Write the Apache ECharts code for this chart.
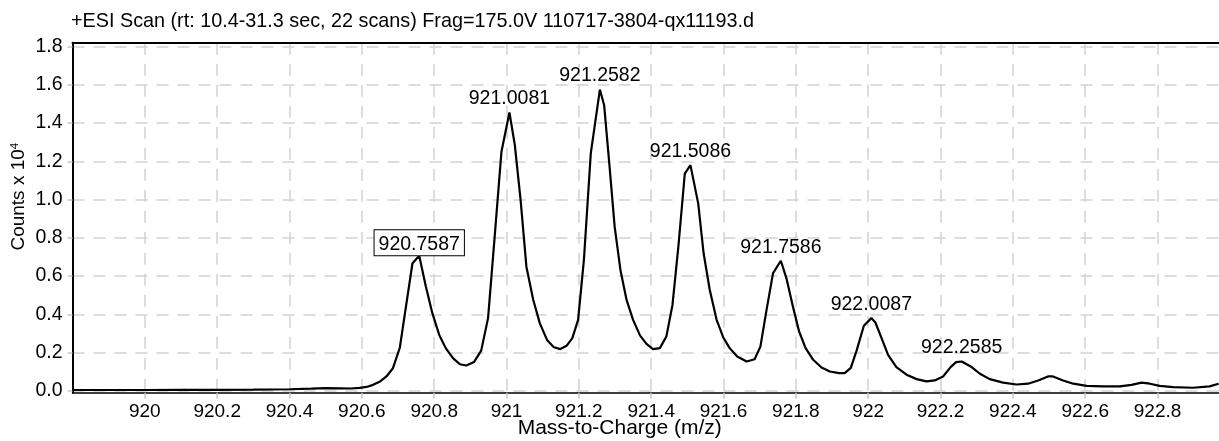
<!DOCTYPE html>
<html>
<head>
<meta charset="utf-8">
<script src="https://cdn.jsdelivr.net/npm/echarts@6/dist/echarts.min.js"></script>
<style>
  html, body { margin: 0; padding: 0; background: #ffffff; }
  #chart { width: 1219px; height: 441px; }
</style>
</head>
<body>
<div id="chart"></div>
<script>
// Profile spectrum: m/z and intensity (counts x 10^4)
const mz = [
  919.80, 919.90, 920.00, 920.10, 920.20, 920.30, 920.40, 920.46, 920.50, 920.54,
  920.57, 920.594, 920.613, 920.631, 920.649, 920.668, 920.686, 920.705, 920.722, 920.740,
  920.7587, 920.777, 920.795, 920.814, 920.832, 920.852, 920.871, 920.889, 920.910, 920.930,
  920.949, 920.968, 920.986, 921.0081, 921.023, 921.039, 921.055, 921.074, 921.092, 921.112,
  921.131, 921.149, 921.166, 921.182, 921.198, 921.214, 921.233, 921.2582, 921.270, 921.285,
  921.299, 921.315, 921.332, 921.350, 921.369, 921.387, 921.405, 921.424, 921.442, 921.459,
  921.476, 921.493, 921.5086, 921.530, 921.545, 921.562, 921.581, 921.599, 921.617, 921.638,
  921.664, 921.686, 921.702, 921.719, 921.737, 921.7586, 921.774, 921.792, 921.809, 921.827,
  921.848, 921.871, 921.894, 921.920, 921.935, 921.952, 921.968, 921.988, 922.0087, 922.020,
  922.037, 922.055, 922.078, 922.106, 922.134, 922.161, 922.184, 922.207, 922.228, 922.243,
  922.2585, 922.286, 922.309, 922.336, 922.373, 922.410, 922.442, 922.470, 922.497, 922.511,
  922.539, 922.567, 922.604, 922.649, 922.696, 922.728, 922.756, 922.779, 922.806, 922.843,
  922.898, 922.944, 922.969
];
const counts = [
  0.004, 0.004, 0.004, 0.005, 0.005, 0.006, 0.008, 0.011, 0.014, 0.013,
  0.012, 0.015, 0.020, 0.031, 0.047, 0.075, 0.118, 0.225, 0.440, 0.667,
  0.706, 0.545, 0.406, 0.292, 0.223, 0.171, 0.139, 0.132, 0.150, 0.210,
  0.380, 0.823, 1.250, 1.455, 1.285, 0.997, 0.649, 0.475, 0.354, 0.266,
  0.228, 0.218, 0.235, 0.275, 0.371, 0.684, 1.241, 1.575, 1.493, 1.171,
  0.858, 0.632, 0.475, 0.371, 0.290, 0.245, 0.218, 0.223, 0.284, 0.450,
  0.770, 1.136, 1.180, 0.980, 0.719, 0.527, 0.371, 0.280, 0.223, 0.179,
  0.153, 0.165, 0.231, 0.423, 0.615, 0.680, 0.588, 0.440, 0.310, 0.223,
  0.162, 0.122, 0.101, 0.092, 0.092, 0.120, 0.210, 0.340, 0.380, 0.357,
  0.275, 0.188, 0.124, 0.084, 0.061, 0.049, 0.054, 0.075, 0.124, 0.150,
  0.153, 0.124, 0.089, 0.061, 0.043, 0.033, 0.037, 0.054, 0.075, 0.075,
  0.054, 0.037, 0.026, 0.023, 0.023, 0.031, 0.043, 0.037, 0.026, 0.019,
  0.016, 0.023, 0.037
];

// Annotated peak centroids
const peakLabels = ['920.7587', '921.0081', '921.2582', '921.5086', '921.7586', '922.0087', '922.2585'];
const boxedPeak = '920.7587';

// Axis ticks
const xTicks = [920, 920.2, 920.4, 920.6, 920.8, 921, 921.2, 921.4, 921.6, 921.8, 922, 922.2, 922.4, 922.6, 922.8];
const yTicks = [0, 0.2, 0.4, 0.6, 0.8, 1.0, 1.2, 1.4, 1.6, 1.8];

const titleText = '+ESI Scan (rt: 10.4-31.3 sec, 22 scans) Frag=175.0V 110717-3804-qx11193.d';
const xName = 'Mass-to-Charge (m/z)';

const FONT = '"Liberation Sans", Arial, Helvetica, sans-serif';
const GRID_LINE = { color: '#d2d2d2', width: 1.5, type: [12, 9] };

const seriesData = mz.map((x, i) => {
  const key = x.toFixed(4);
  const item = { value: [x, counts[i]] };
  if (peakLabels.indexOf(key) >= 0) {
    const boxed = key === boxedPeak;
    item.label = {
      show: true,
      formatter: key,
      position: 'top',
      distance: boxed ? 0 : 3,
      offset: [6, 0],
      color: '#000',
      fontFamily: FONT,
      fontSize: 19.5,
      backgroundColor: boxed ? '#fff' : 'transparent',
      borderColor: boxed ? '#000' : 'transparent',
      borderWidth: boxed ? 1 : 0,
      padding: boxed ? [4, 4, 1, 4] : 0
    };
  }
  return item;
});

const chart = echarts.init(document.getElementById('chart'), null, { renderer: 'canvas' });
chart.setOption({
  animation: false,
  backgroundColor: '#ffffff',
  title: {
    text: titleText,
    left: 71,
    top: 12,
    padding: 0,
    textStyle: { fontFamily: FONT, fontSize: 19.8, fontWeight: 'normal', color: '#000' }
  },
  grid: { left: 72.5, right: 0, top: 42.7, bottom: 48.3, containLabel: false, outerBoundsMode: 'none' },
  xAxis: [
    {
      type: 'value',
      position: 'bottom',
      min: 919.8,
      max: 922.97,
      name: xName,
      nameLocation: 'middle',
      nameGap: 25,
      nameMoveOverlap: false,
      nameTextStyle: { fontFamily: FONT, fontSize: 21, color: '#000', padding: [0, 52, 0, 0] },
      axisLine: { show: true, onZero: false, lineStyle: { color: '#000', width: 1.5 } },
      axisTick: { show: true, length: 6, customValues: xTicks, lineStyle: { color: '#c8c8c8', width: 1.5 } },
      axisLabel: {
        customValues: xTicks,
        margin: 10,
        fontFamily: FONT, fontSize: 19, color: '#000',
        formatter: v => String(parseFloat(v.toFixed(1)))
      },
      splitLine: { show: true, lineStyle: GRID_LINE }
    },
    {
      type: 'value',
      position: 'top',
      min: 919.8,
      max: 922.97,
      axisLine: { show: true, onZero: false, lineStyle: { color: '#000', width: 2 } },
      axisTick: { show: false },
      axisLabel: { show: false },
      splitLine: { show: false }
    }
  ],
  yAxis: {
    type: 'value',
    min: -0.01,
    max: 1.82,
    name: 'Counts x 10{sup|4}',
    nameLocation: 'middle',
    nameRotate: 90,
    nameGap: 43,
    nameMoveOverlap: false,
    nameTextStyle: {
      fontFamily: FONT, fontSize: 19, color: '#000',
      padding: [0, 0, 0, 42],
      rich: { sup: { fontFamily: FONT, fontSize: 11.5, color: '#000', verticalAlign: 'top', lineHeight: 21 } }
    },
    axisLine: { show: true, onZero: false, lineStyle: { color: '#000', width: 2 } },
    axisTick: { show: true, length: 5, customValues: yTicks, lineStyle: { color: '#c8c8c8', width: 1.5 } },
    axisLabel: {
      customValues: yTicks,
      margin: 10,
      fontFamily: FONT, fontSize: 19.5, color: '#000',
      formatter: v => v.toFixed(1)
    },
    splitLine: { show: true, lineStyle: GRID_LINE }
  },
  series: [{
    type: 'line',
    xAxisIndex: 0,
    data: seriesData,
    showSymbol: true,
    showAllSymbol: true,
    symbol: 'circle',
    symbolSize: 1,
    itemStyle: { color: 'transparent', borderWidth: 0 },
    lineStyle: { color: '#000', width: 2.2 },
    labelLayout: { hideOverlap: false },
    emphasis: { disabled: true },
    silent: true,
    z: 5
  }]
});
</script>
</body>
</html>
